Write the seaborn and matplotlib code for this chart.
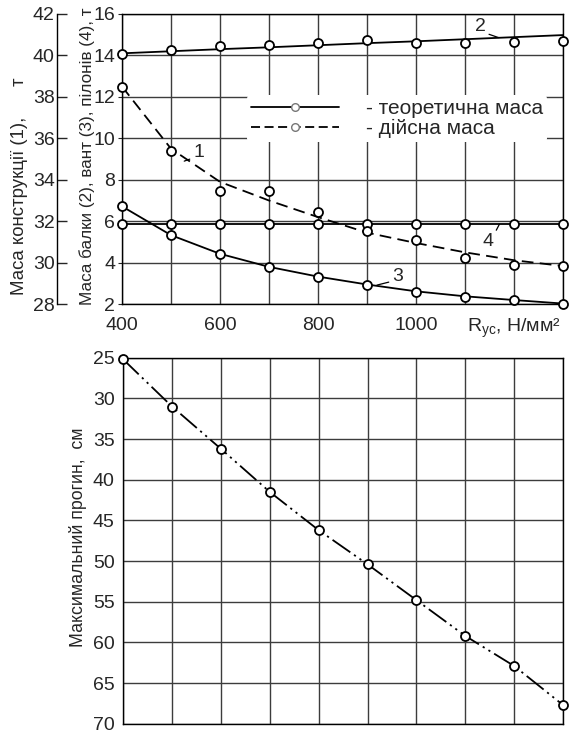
import matplotlib
matplotlib.use("Agg")
import matplotlib.pyplot as plt
from matplotlib.lines import Line2D
import seaborn as sns

# ---------------- data ----------------
r_yc = [400, 500, 600, 700, 800, 900, 1000, 1100, 1200, 1300]

# (1) construction mass, t (outer axis 28..42)
constr_line = [38.5, 35.5, 33.9, 33.0, 32.2, 31.45, 30.95, 30.5, 30.12, 29.84]
constr_pts = [38.47, 35.4, 33.44, 33.44, 32.44, 31.52, 31.09, 30.23, 29.9, 29.84]
# (2) beam mass, t
beam_line = [14.1, 14.2, 14.3, 14.39, 14.49, 14.59, 14.68, 14.78, 14.88, 14.98]
beam_pts = [14.08, 14.28, 14.44, 14.52, 14.6, 14.73, 14.59, 14.59, 14.64, 14.7]
# (3) cable mass, t
cable_line = [6.72, 5.33, 4.43, 3.8, 3.33, 2.95, 2.62, 2.38, 2.2, 2.03]
cable_pts = [6.72, 5.33, 4.43, 3.78, 3.33, 2.93, 2.6, 2.37, 2.21, 2.03]
# (4) pylon mass, t
pylon_line = [5.88] * 10
pylon_pts = [5.86] * 10
# max deflection, cm
deflection = [25.2, 31.0, 36.2, 41.5, 46.2, 50.4, 54.8, 59.2, 62.9, 67.7]

x_ticks = [400, 500, 600, 700, 800, 900, 1000, 1100, 1200, 1300]
x_labels = ["400", "", "600", "", "800", "", "1000", "", "R$_{\\mathregular{ус}}$, Н/мм²", ""]
inner_ticks = [2, 4, 6, 8, 10, 12, 14, 16]
outer_ticks = [28, 30, 32, 34, 36, 38, 40, 42]
defl_ticks = [25, 30, 35, 40, 45, 50, 55, 60, 65, 70]

legend_labels = ["- теоретична маса", "- дійсна маса"]

# ---------------- style ----------------
sns.set_style("white")
plt.rcParams["font.family"] = ["Liberation Sans", "DejaVu Sans"]
plt.rcParams["mathtext.fontset"] = "custom"
plt.rcParams["mathtext.rm"] = "Liberation Sans"
plt.rcParams["mathtext.it"] = "Liberation Sans:italic"

GRID = "#3c3c3c"
LW = 1.3
FS = 14

fig = plt.figure(figsize=(5.7, 7.33), dpi=100)
ax = fig.add_axes([0.214, 0.585, 0.774, 0.396])
axb = fig.add_axes([0.216, 0.0125, 0.772, 0.4995])

pt_kw = dict(marker="o", s=42, facecolor="white", edgecolor="black",
             linewidth=1.3, zorder=6, clip_on=False, legend=False)

# ---------------- top chart ----------------
ax.set_xlim(400, 1300)
ax.set_ylim(2, 16)
ax.set_xticks(x_ticks)
ax.set_xticklabels(x_labels, fontsize=FS)
ax.set_yticks(inner_ticks)
ax.set_yticklabels([str(t) for t in inner_ticks], fontsize=FS)
ax.tick_params(axis="x", length=0, pad=9)
ax.tick_params(axis="y", length=3, direction="out", pad=2, left=True)
ax.grid(True, color=GRID, lw=1.0)
for s in ax.spines.values():
    s.set_color("black")
    s.set_linewidth(1.0)

sns.lineplot(x=r_yc, y=beam_line, ax=ax, color="black", lw=LW)
sns.scatterplot(x=r_yc, y=beam_pts, ax=ax, **pt_kw)
sns.lineplot(x=r_yc, y=cable_line, ax=ax, color="black", lw=LW)
sns.scatterplot(x=r_yc, y=cable_pts, ax=ax, **pt_kw)
sns.lineplot(x=r_yc, y=pylon_line, ax=ax, color="black", lw=LW)
sns.scatterplot(x=r_yc, y=pylon_pts, ax=ax, **pt_kw)

ax2 = ax.twinx()
ax2.set_ylim(28, 42)
ax2.grid(False)
for k in ["right", "top", "bottom"]:
    ax2.spines[k].set_visible(False)
ax2.spines["left"].set_position(("outward", 46.5))
ax2.spines["left"].set_color("black")
ax2.spines["left"].set_linewidth(1.0)
ax2.yaxis.set_ticks_position("left")
ax2.yaxis.set_label_position("left")
ax2.set_yticks(outer_ticks)
ax2.set_yticklabels([str(t) for t in outer_ticks], fontsize=FS)
ax2.tick_params(axis="y", direction="in", length=7, pad=2, width=1.0)
sns.lineplot(x=r_yc, y=constr_line, ax=ax2, color="black", lw=LW,
             linestyle=(0, (6.5, 3.5)))
sns.scatterplot(x=r_yc, y=constr_pts, ax=ax2, **pt_kw)
ax2.set_xlim(400, 1300)
ax2.set_ylabel("")
ax.set_ylabel("")

# labels on the curves
ann_kw = dict(fontsize=14, ha="center", va="center", zorder=8)
ax2.annotate("1", xy=(527, 26 + 8.9), xytext=(556, 26 + 9.3),
             arrowprops=dict(arrowstyle="-", lw=0.9, color="black",
                             relpos=(0, 0.2), shrinkA=0, shrinkB=0), **ann_kw)
ax2.annotate("2", xy=(1168, 26 + 14.86), xytext=(1131, 26 + 15.4),
             arrowprops=dict(arrowstyle="-", lw=0.9, color="black",
                             relpos=(1, 0.1), shrinkA=0, shrinkB=0), **ann_kw)
ax2.annotate("3", xy=(920, 26 + 2.92), xytext=(962, 26 + 3.35),
             arrowprops=dict(arrowstyle="-", lw=0.9, color="black",
                             relpos=(0, 0.2), shrinkA=0, shrinkB=0), **ann_kw)
ax2.annotate("4", xy=(1170, 26 + 5.86), xytext=(1147, 26 + 5.0),
             arrowprops=dict(arrowstyle="-", lw=0.9, color="black",
                             relpos=(1, 0.9), shrinkA=0, shrinkB=0), **ann_kw)

handles = [
    Line2D([0], [0], color="black", lw=LW, marker="o", mfc="white",
           mec="#777777", ms=5.5),
    Line2D([0], [0], color="black", lw=LW, ls=(0, (5, 2.5)), marker="o",
           mfc="white", mec="#777777", ms=5.5),
]
leg = ax2.legend(handles, legend_labels, loc="upper left",
                 bbox_to_anchor=(0.283, 0.72), fontsize=15, frameon=True,
                 facecolor="white", edgecolor="none", framealpha=1,
                 handlelength=4.2, handletextpad=1.3, labelspacing=0.02,
                 borderpad=0.2, numpoints=1, borderaxespad=0)
leg.set_zorder(10)

fig.text(20 / 570, 1 - 186 / 733, "Маса конструкції (1),      т", rotation=90,
         ha="center", va="center", fontsize=13.4)
fig.text(87 / 570, 1 - 156 / 733, "Маса балки (2), вант (3), пілонів (4), т",
         rotation=90, ha="center", va="center", fontsize=12.3)

# ---------------- bottom chart ----------------
axb.set_xlim(400, 1300)
axb.set_ylim(70, 25)
axb.set_xticks(x_ticks)
axb.set_xticklabels([])
axb.set_yticks(defl_ticks)
axb.set_yticklabels([str(t) for t in defl_ticks], fontsize=FS)
axb.tick_params(axis="x", length=0)
axb.tick_params(axis="y", length=0, pad=6)
axb.grid(True, color=GRID, lw=1.0)
for s in axb.spines.values():
    s.set_color("black")
    s.set_linewidth(1.0)
sns.lineplot(x=r_yc, y=deflection, ax=axb, color="black", lw=LW,
             linestyle=(0, (12, 2.5, 1.2, 2.5, 1.2, 2.5)))
sns.scatterplot(x=r_yc, y=deflection, ax=axb, **pt_kw)
axb.set_ylabel("")
fig.text(78 / 570, 1 - 537 / 733, "Максимальний прогин,  см", rotation=90,
         ha="center", va="center", fontsize=12.8)

fig.savefig("out.png", dpi=100)
